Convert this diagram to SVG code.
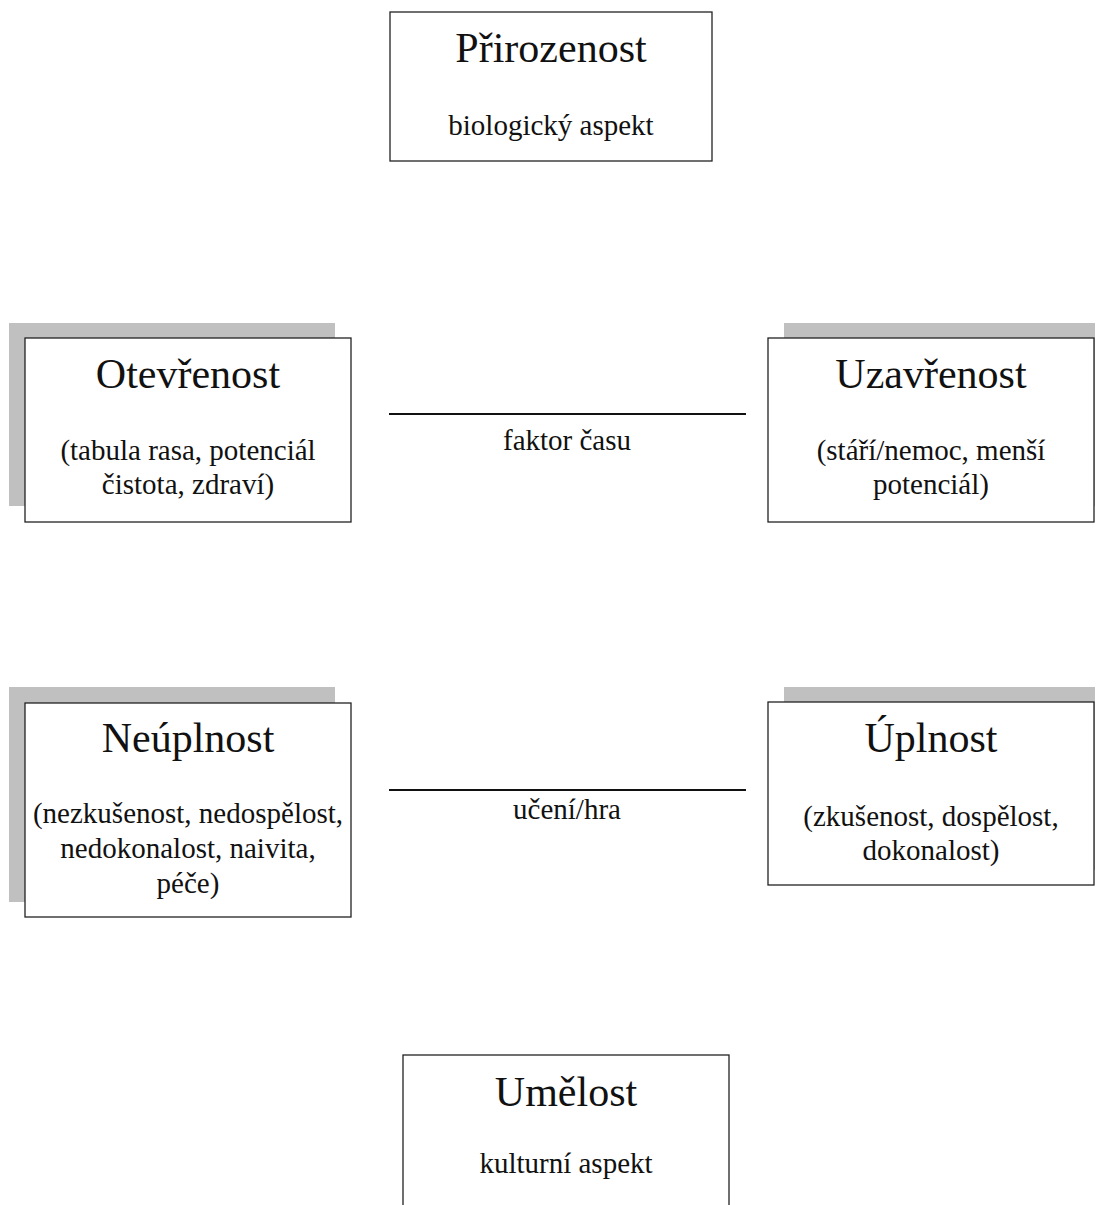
<svg xmlns="http://www.w3.org/2000/svg" width="1097" height="1205" viewBox="0 0 1097 1205">
<style>
.box{fill:#fff;stroke:#222;stroke-width:1.3}
.sh{fill:#c0c0c0}
.t{font-family:"Liberation Serif","Times New Roman",serif;fill:#111;text-anchor:middle}
.h{font-size:42px}
.s{font-size:29px}
.ln{stroke:#111;stroke-width:2}
</style>
<rect width="1097" height="1205" fill="#fff"/>
<g id="prirozenost">
<rect class="box" x="390" y="12" width="322" height="149"/>
<text class="t h" x="551" y="62">Přirozenost</text>
<text class="t s" x="551" y="135">biologický aspekt</text>
</g>
<g id="otevrenost">
<rect class="sh" x="9" y="323" width="326" height="183"/>
<rect class="box" x="25" y="338" width="326" height="184"/>
<text class="t h" x="188" y="388">Otevřenost</text>
<text class="t s" x="188" y="460">(tabula rasa, potenciál</text>
<text class="t s" x="188" y="494">čistota, zdraví)</text>
</g>
<g id="uzavrenost">
<rect class="sh" x="784" y="323" width="311" height="183"/>
<rect class="box" x="768" y="338" width="326" height="184"/>
<text class="t h" x="931" y="388">Uzavřenost</text>
<text class="t s" x="931" y="460">(stáří/nemoc, menší</text>
<text class="t s" x="931" y="494">potenciál)</text>
</g>
<g id="neuplnost">
<rect class="sh" x="9" y="687" width="326" height="215"/>
<rect class="box" x="25" y="703" width="326" height="214"/>
<text class="t h" x="188" y="752">Neúplnost</text>
<text class="t s" x="188" y="823">(nezkušenost, nedospělost,</text>
<text class="t s" x="188" y="858">nedokonalost, naivita,</text>
<text class="t s" x="188" y="893">péče)</text>
</g>
<g id="uplnost">
<rect class="sh" x="784" y="687" width="311" height="183"/>
<rect class="box" x="768" y="702" width="326" height="183"/>
<text class="t h" x="931" y="752">Úplnost</text>
<text class="t s" x="931" y="826">(zkušenost, dospělost,</text>
<text class="t s" x="931" y="860">dokonalost)</text>
</g>
<g id="umelost">
<rect class="box" x="403" y="1055" width="326" height="170"/>
<text class="t h" x="566" y="1106">Umělost</text>
<text class="t s" x="566" y="1173">kulturní aspekt</text>
</g>
<g id="connectors">
<line class="ln" x1="389" y1="414" x2="746" y2="414"/>
<text class="t s" x="567" y="450">faktor času</text>
<line class="ln" x1="389" y1="790" x2="746" y2="790"/>
<text class="t s" x="567" y="819">učení/hra</text>
</g>
</svg>
